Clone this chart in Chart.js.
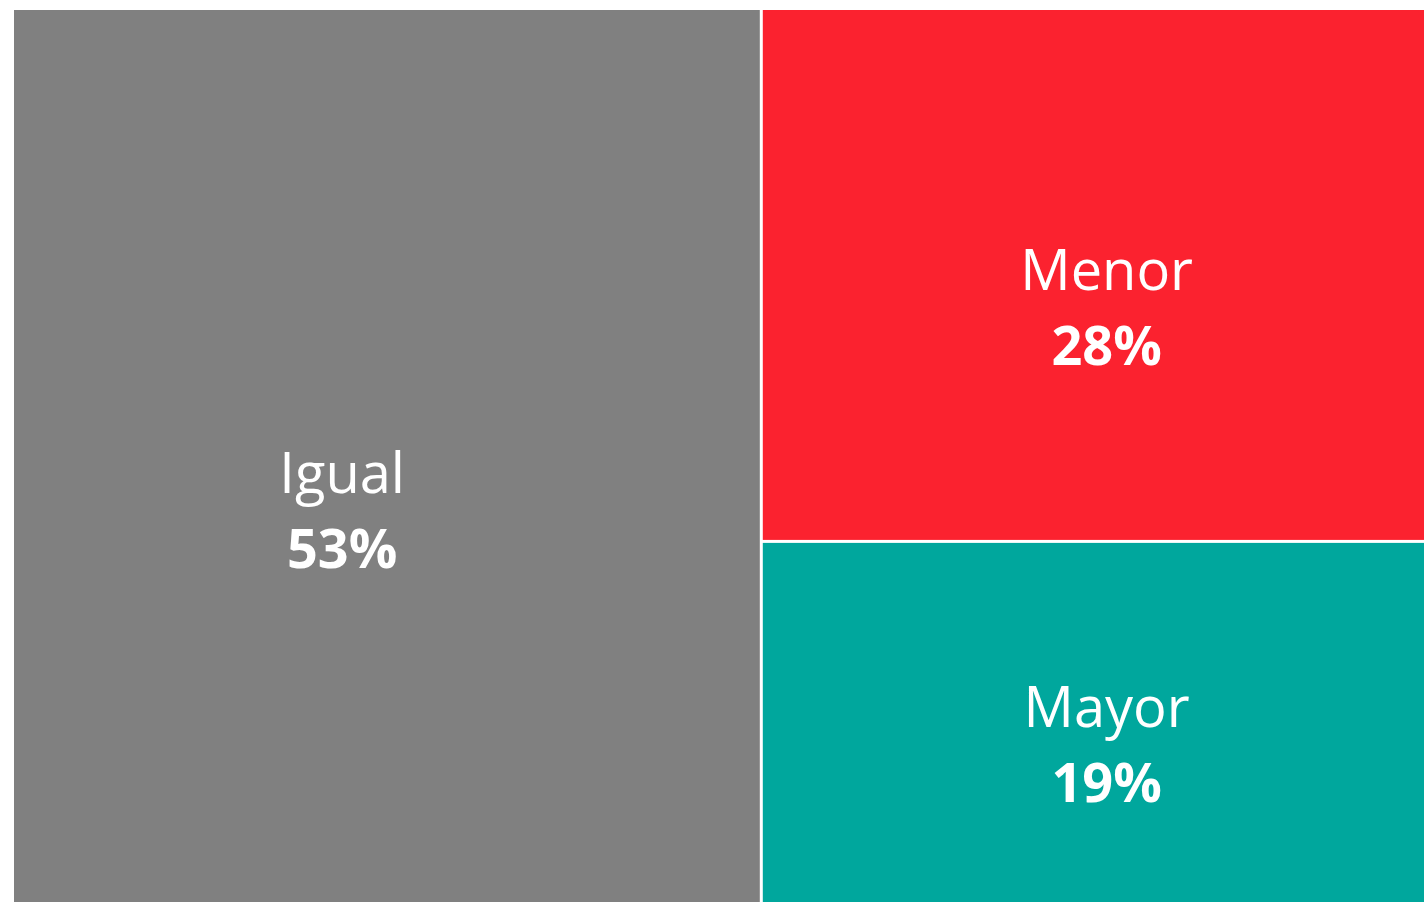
<!DOCTYPE html>
<html>
<head>
<meta charset="utf-8">
<script src="https://cdn.jsdelivr.net/npm/chart.js@4/dist/chart.umd.min.js"></script>
<style>
    html, body { margin: 0; padding: 0; background: #fff; }
    #wrap { width: 1424px; height: 902px; position: relative; }
</style>
</head>
<body>
<div id="wrap"><canvas id="chart"></canvas></div>
<script>
// Treemap data
const categories = ['Igual', 'Menor', 'Mayor'];
const shares = [53, 28, 19];
const colors = ['#808080', '#FB222F', '#00A79D'];

// Simple slice layout: first item takes a full-height column,
// the rest stack vertically in the remaining column
function layoutCells() {
    const total = shares.reduce((a, b) => a + b, 0);
    const cells = [];
    const firstW = shares[0] / total * 100;
    cells.push({ x0: 0, x1: firstW, y0: 0, y1: 100 });
    const restTotal = total - shares[0];
    let yTop = 100;
    for (let i = 1; i < shares.length; i++) {
        const h = shares[i] / restTotal * 100;
        cells.push({ x0: firstW, x1: 100, y0: yTop - h, y1: yTop });
        yTop -= h;
    }
    return cells;
}

const treemapPlugin = {
    id: 'treemapCells',
    afterDatasetsDraw(chart) {
        const { ctx, scales, chartArea } = chart;
        const cells = layoutCells();
        const gap = 1.5;
        ctx.save();
        cells.forEach((c, i) => {
            let left = scales.x.getPixelForValue(c.x0);
            let right = scales.x.getPixelForValue(c.x1);
            let top = scales.y.getPixelForValue(c.y1);
            let bottom = scales.y.getPixelForValue(c.y0);
            // white gaps only on inner edges
            if (left > chartArea.left + 1) left += gap;
            if (right < chartArea.right - 1) right -= gap;
            if (top > chartArea.top + 1) top += gap;
            if (bottom < chartArea.bottom - 1) bottom -= gap;

            ctx.fillStyle = colors[i];
            ctx.fillRect(left, top, right - left, bottom - top);

            // labels sit a bit off centre, like the Excel original
            const fx = i === 0 ? 0.44 : 0.52;
            const cx = left + (right - left) * fx;
            const cy = top + (bottom - top) * 0.56;
            ctx.fillStyle = '#ffffff';
            ctx.textAlign = 'center';
            ctx.textBaseline = 'alphabetic';
            ctx.font = '56px "Open Sans", sans-serif';
            ctx.fillText(categories[i], cx, cy - 17);
            ctx.font = 'bold 54px "Open Sans", sans-serif';
            ctx.fillText(shares[i] + '%', cx, cy + 58);
        });
        ctx.restore();
    }
};

new Chart(document.getElementById('chart'), {
    type: 'scatter',
    data: {
        datasets: [{
            label: 'Treemap',
            data: [],
            pointRadius: 0
        }]
    },
    options: {
        responsive: true,
        maintainAspectRatio: false,
        animation: false,
        layout: { padding: { left: 14, top: 10, right: 0, bottom: 0 } },
        plugins: {
            legend: { display: false },
            tooltip: { enabled: false }
        },
        scales: {
            x: { type: 'linear', min: 0, max: 100, display: false },
            y: { type: 'linear', min: 0, max: 100, display: false }
        }
    },
    plugins: [treemapPlugin]
});
</script>
</body>
</html>
